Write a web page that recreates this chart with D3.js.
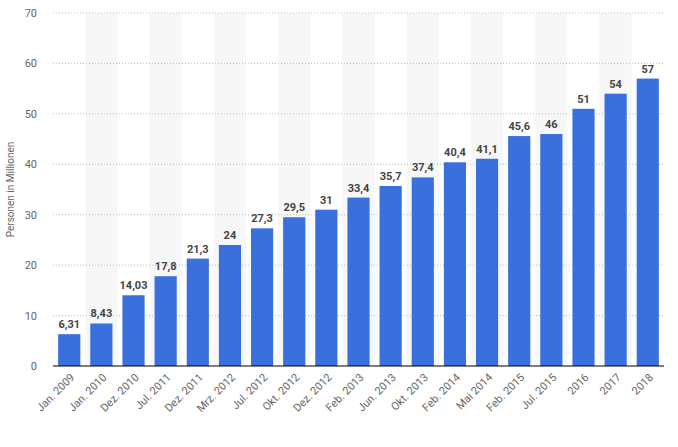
<!DOCTYPE html><html><head><meta charset="utf-8"><script src="https://cdn.jsdelivr.net/npm/d3@7"></script>
<style>body{margin:0;background:#fff}</style></head><body><svg id="c" width="678" height="447"></svg>
<script>
const categories=["Jan. 2009","Jan. 2010","Dez. 2010","Jul. 2011","Dez. 2011","Mrz. 2012","Jul. 2012","Okt. 2012","Dez. 2012","Feb. 2013","Jun. 2013","Okt. 2013","Feb. 2014","Mai 2014","Feb. 2015","Jul. 2015","2016","2017","2018"];
const values=[6.31,8.43,14.03,17.8,21.3,24,27.3,29.5,31,33.4,35.7,37.4,40.4,41.1,45.6,46,51,54,57];
const labels=["6,31","8,43","14,03","17,8","21,3","24","27,3","29,5","31","33,4","35,7","37,4","40,4","41,1","45,6","46","51","54","57"];
const yTicks=[0,10,20,30,40,50,60,70];
const svg=d3.select("#c");
const L=53,R=664,T=13,B=366;
const x=d3.scaleBand().domain(categories).range([L,R]).paddingInner(0.31).paddingOuter(0.16);
const y=d3.scaleLinear().domain([0,70]).range([B,T]);
const step=x.step();
categories.forEach((c,i)=>{if(i%2===1)svg.append("rect").attr("x",x(c)+x.bandwidth()/2-step/2).attr("y",T).attr("width",step).attr("height",B-T).attr("fill","#f7f7f7");});
svg.append("g").selectAll("line").data(yTicks.filter(d=>d>0)).join("line").attr("x1",L).attr("x2",R).attr("y1",d=>y(d)).attr("y2",d=>y(d)).attr("stroke","#bbb").attr("stroke-dasharray","1,2");
svg.append("g").selectAll("text").data(yTicks).join("text").attr("x",37).attr("y",d=>y(d)+4).attr("text-anchor","end").attr("font-family","Roboto, sans-serif").attr("font-size",11).attr("fill","#666").text(d=>d);
svg.append("g").selectAll("rect").data(values).join("rect").attr("x",(d,i)=>x(categories[i])).attr("width",x.bandwidth()).attr("y",d=>y(d)).attr("height",d=>B-y(d)).attr("fill","#3a70dc");
svg.append("g").selectAll("text").data(values).join("text").attr("x",(d,i)=>x(categories[i])+x.bandwidth()/2).attr("y",d=>y(d)-6).attr("text-anchor","middle").attr("font-family","Roboto, sans-serif").attr("font-weight","bold").attr("font-size",11).attr("fill","#444").text((d,i)=>labels[i]);
svg.append("line").attr("x1",L).attr("x2",R).attr("y1",B).attr("y2",B).attr("stroke","#000").attr("stroke-width",1.2);
svg.append("g").selectAll("text").data(categories).join("text").attr("transform",c=>`translate(${x(c)+x.bandwidth()/2+6},${B+12}) rotate(-45)`).attr("text-anchor","end").attr("font-family","Roboto, sans-serif").attr("font-size",11).attr("fill","#666").text(c=>c);
svg.append("text").attr("transform",`translate(14,${(T+B)/2}) rotate(-90)`).attr("text-anchor","middle").attr("font-family","Roboto, sans-serif").attr("font-size",10).attr("fill","#666").text("Personen in Millionen");
</script></body></html>
